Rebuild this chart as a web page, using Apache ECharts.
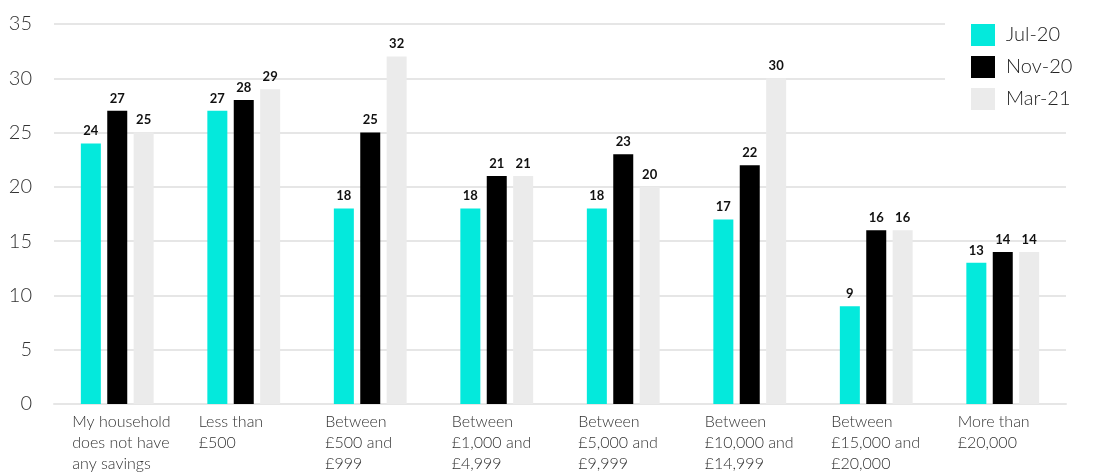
<!DOCTYPE html>
<html>
<head>
<meta charset="utf-8">
<script src="https://cdn.jsdelivr.net/npm/echarts@6/dist/echarts.min.js"></script>
<style>
  html, body { margin: 0; padding: 0; background: #ffffff; }
  #chart { width: 1116px; height: 476px; }
</style>
</head>
<body>
<div id="chart"></div>
<script>
// Household savings bands
const categories = [
  'My household\ndoes not have\nany savings',
  'Less than\n£500',
  'Between\n£500 and\n£999',
  'Between\n£1,000 and\n£4,999',
  'Between\n£5,000 and\n£9,999',
  'Between\n£10,000 and\n£14,999',
  'Between\n£15,000 and\n£20,000',
  'More than\n£20,000'
];

const seriesNames = ['Jul-20', 'Nov-20', 'Mar-21'];
const jul20 = [24, 27, 18, 18, 18, 17, 9, 13];
const nov20 = [27, 28, 25, 21, 23, 22, 16, 14];
const mar21 = [25, 29, 32, 21, 20, 30, 16, 14];

const yTicks = { min: 0, max: 35, interval: 5 };

const colors = ['#04E9DC', '#000000', '#EBEBEB'];
const FONT = 'Lato, "Open Sans", sans-serif';

const chart = echarts.init(document.getElementById('chart'), null, { renderer: 'canvas' });

function barSeries(name, data, color) {
  return {
    name: name,
    type: 'bar',
    data: data,
    barWidth: 20,
    barGap: '32%',
    itemStyle: { color: color },
    label: {
      show: true,
      position: 'top',
      distance: 6,
      color: '#111111',
      fontFamily: FONT,
      fontWeight: 'bold',
      fontSize: 13
    }
  };
}

chart.setOption({
  animation: false,
  backgroundColor: '#ffffff',
  grid: { left: 54, right: 50, top: 24, bottom: 72 },
  legend: {
    orient: 'vertical',
    left: 945,
    top: 14,
    padding: [10, 60, 12, 26],
    backgroundColor: '#ffffff',
    itemWidth: 24,
    itemHeight: 22,
    itemGap: 10,
    icon: 'rect',
    textStyle: {
      fontFamily: FONT,
      fontWeight: 300,
      fontSize: 20,
      color: '#222222',
      padding: [0, 0, 0, 6]
    },
    data: seriesNames
  },
  xAxis: {
    type: 'category',
    data: categories,
    axisLine: { show: true, lineStyle: { color: '#e6e6e6', width: 2 } },
    axisTick: { show: false },
    axisLabel: {
      interval: 0,
      align: 'left',
      margin: 7,
      // shift each label so it starts just left of its group of bars
      padding: [0, 0, 0, -45],
      color: '#333333',
      fontFamily: FONT,
      fontWeight: 300,
      fontSize: 16,
      lineHeight: 21
    }
  },
  yAxis: {
    type: 'value',
    min: yTicks.min,
    max: yTicks.max,
    interval: yTicks.interval,
    axisLine: { show: false },
    axisTick: { show: false },
    splitLine: { lineStyle: { color: '#e6e6e6', width: 2 } },
    axisLabel: {
      margin: 22,
      color: '#333333',
      fontFamily: FONT,
      fontWeight: 300,
      fontSize: 20
    }
  },
  series: [
    barSeries(seriesNames[0], jul20, colors[0]),
    barSeries(seriesNames[1], nov20, colors[1]),
    barSeries(seriesNames[2], mar21, colors[2])
  ]
});
</script>
</body>
</html>
